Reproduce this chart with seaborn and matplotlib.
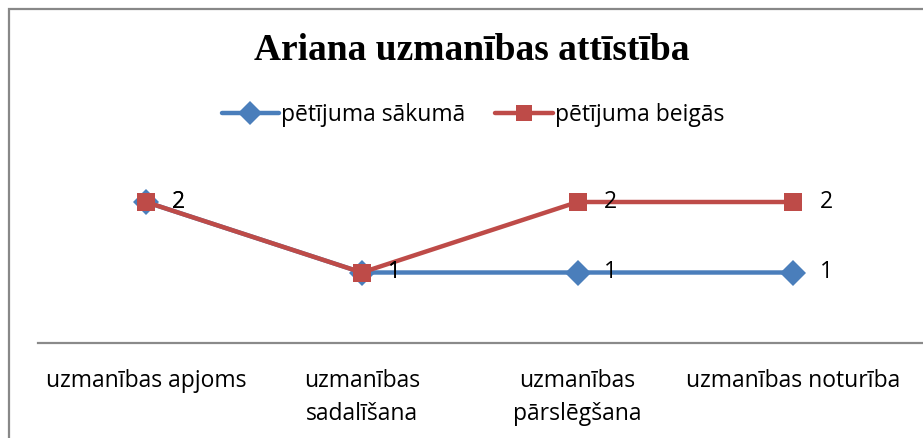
import seaborn as sns
import pandas as pd
import matplotlib.pyplot as plt
from matplotlib.patches import Rectangle


# Data
categories = ['uzmanības apjoms', 'uzmanības\nsadalīšana', 'uzmanības\npārslēgšana', 'uzmanības noturība']
series_names = ['pētījuma sākumā', 'pētījuma beigās']
start_values = [2, 1, 1, 1]
end_values = [2, 1, 2, 2]
title = 'Ariana uzmanības attīstība'

rows = []
for name, vals in zip(series_names, [start_values, end_values]):
    for i, v in enumerate(vals):
        rows.append({'pos': i, 'value': v, 'series': name})
df = pd.DataFrame(rows)

sns.set_style('white')
plt.rcParams['font.family'] = ['Open Sans', 'DejaVu Sans']
plt.rcParams['text.color'] = 'black'
plt.rcParams['xtick.color'] = 'black'
plt.rcParams['xtick.labelcolor'] = 'black'

fig = plt.figure(figsize=(9.23, 4.38), dpi=100)
ax = fig.add_axes([38 / 923, 1 - 343 / 438, 885 / 923, 211.5 / 438])

palette = {'pētījuma sākumā': '#4A7EBB', 'pētījuma beigās': '#BE4B48'}
markers = {'pētījuma sākumā': 'D', 'pētījuma beigās': 's'}
sns.lineplot(data=df, x='pos', y='value', hue='series', style='series',
             palette=palette, markers=markers, dashes=False, linewidth=3.2,
             markersize=13, markeredgewidth=0, ax=ax, legend=False)

# data labels to the right of each point
for vals in [start_values, end_values]:
    for i, v in enumerate(vals):
        ax.annotate(str(v), (i, v), xytext=(33, 0), textcoords='offset pixels',
                    ha='center', va='center', fontsize=16.5, color='black')

ax.set_xlim(-0.5, 3.6)
ax.set_ylim(0, 3)
ax.set_xticks(range(len(categories)))
ax.set_xticklabels(categories, fontsize=16.5, linespacing=1.5, color='black')
ax.tick_params(axis='x', length=0, pad=19)
ax.set_yticks([])
ax.set_xlabel('')
ax.set_ylabel('')
for side in ['top', 'left', 'right']:
    ax.spines[side].set_visible(False)
ax.spines['bottom'].set_color('#8A8A8A')
ax.spines['bottom'].set_linewidth(1.6)

# legend
handles = [plt.Line2D([], [], color=palette[n], marker=markers[n], lw=3.2,
                      markersize=12, markeredgewidth=0) for n in series_names]
fig.legend(handles, series_names, loc='center', bbox_to_anchor=(473 / 923, 1 - 115 / 438),
           ncol=2, frameon=False, fontsize=16.5, handlelength=2.5, handletextpad=0.1,
           columnspacing=1.3)

fig.text(0.511, 1 - 50 / 438, title, ha='center', va='center', fontsize=27,
         fontweight='bold', family='Liberation Serif', color='black')

# chart border (cut off on the right and bottom)
fig.add_artist(Rectangle((8.5 / 923, -0.2), 1.2, 1.2 - 8.5 / 438, transform=fig.transFigure,
                         fill=False, edgecolor='#888888', linewidth=1.6))

fig.savefig('out.png', dpi=100)
